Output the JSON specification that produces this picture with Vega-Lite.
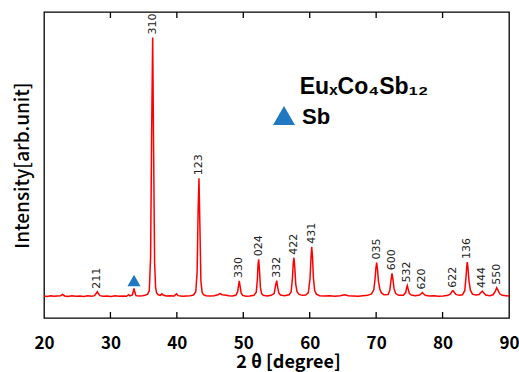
{
  "$schema": "https://vega.github.io/schema/vega-lite/v6.json",
  "width": 465,
  "height": 306,
  "autosize": {"type": "none"},
  "padding": {"left": 44, "top": 12, "right": 10, "bottom": 54},
  "config": {
    "view": {"stroke": "#000", "strokeWidth": 1.3},
    "axis": {"grid": false}
  },
  "datasets": {
    "pattern": [
      {"two_theta": 20.0, "intensity": 7.2}, {"two_theta": 20.5, "intensity": 7.0}, {"two_theta": 21.0, "intensity": 7.3},
      {"two_theta": 21.5, "intensity": 7.1}, {"two_theta": 22.0, "intensity": 7.2}, {"two_theta": 22.5, "intensity": 7.3},
      {"two_theta": 22.8, "intensity": 7.7}, {"two_theta": 23.1, "intensity": 7.2}, {"two_theta": 23.6, "intensity": 7.0},
      {"two_theta": 24.2, "intensity": 7.3}, {"two_theta": 24.8, "intensity": 7.1}, {"two_theta": 25.4, "intensity": 7.2},
      {"two_theta": 26.0, "intensity": 7.0}, {"two_theta": 26.6, "intensity": 7.3}, {"two_theta": 27.2, "intensity": 7.1},
      {"two_theta": 27.6, "intensity": 7.3}, {"two_theta": 27.85, "intensity": 8.0}, {"two_theta": 28.03, "intensity": 8.6},
      {"two_theta": 28.2, "intensity": 7.9}, {"two_theta": 28.45, "intensity": 7.3}, {"two_theta": 28.9, "intensity": 7.1},
      {"two_theta": 29.5, "intensity": 7.2}, {"two_theta": 30.1, "intensity": 7.0}, {"two_theta": 30.7, "intensity": 7.3},
      {"two_theta": 31.3, "intensity": 7.1}, {"two_theta": 31.9, "intensity": 7.2}, {"two_theta": 32.4, "intensity": 7.1},
      {"two_theta": 32.75, "intensity": 7.6}, {"two_theta": 32.95, "intensity": 7.2}, {"two_theta": 33.3, "intensity": 7.5},
      {"two_theta": 33.45, "intensity": 8.8}, {"two_theta": 33.55, "intensity": 9.7}, {"two_theta": 33.68, "intensity": 8.4},
      {"two_theta": 33.85, "intensity": 7.3}, {"two_theta": 34.3, "intensity": 7.2}, {"two_theta": 34.8, "intensity": 7.3},
      {"two_theta": 35.2, "intensity": 7.4}, {"two_theta": 35.6, "intensity": 7.8}, {"two_theta": 35.85, "intensity": 9.0},
      {"two_theta": 36.05, "intensity": 20}, {"two_theta": 36.2, "intensity": 60}, {"two_theta": 36.36, "intensity": 91.7},
      {"two_theta": 36.5, "intensity": 55}, {"two_theta": 36.65, "intensity": 18}, {"two_theta": 36.8, "intensity": 10},
      {"two_theta": 36.95, "intensity": 8.2}, {"two_theta": 37.2, "intensity": 7.6}, {"two_theta": 37.5, "intensity": 7.4},
      {"two_theta": 37.75, "intensity": 7.9}, {"two_theta": 37.95, "intensity": 7.5}, {"two_theta": 38.4, "intensity": 7.2},
      {"two_theta": 39.0, "intensity": 7.3}, {"two_theta": 39.6, "intensity": 7.2}, {"two_theta": 39.95, "intensity": 7.9},
      {"two_theta": 40.2, "intensity": 7.3}, {"two_theta": 40.8, "intensity": 7.1}, {"two_theta": 41.4, "intensity": 7.2},
      {"two_theta": 42.0, "intensity": 7.3}, {"two_theta": 42.5, "intensity": 7.5}, {"two_theta": 42.85, "intensity": 8.6},
      {"two_theta": 43.05, "intensity": 15}, {"two_theta": 43.2, "intensity": 35}, {"two_theta": 43.33, "intensity": 45.7},
      {"two_theta": 43.47, "intensity": 30}, {"two_theta": 43.62, "intensity": 12}, {"two_theta": 43.8, "intensity": 8.5},
      {"two_theta": 44.0, "intensity": 7.6}, {"two_theta": 44.4, "intensity": 7.3}, {"two_theta": 45.0, "intensity": 7.2},
      {"two_theta": 45.6, "intensity": 7.3}, {"two_theta": 46.2, "intensity": 7.6}, {"two_theta": 46.5, "intensity": 8.0},
      {"two_theta": 46.8, "intensity": 7.6}, {"two_theta": 47.2, "intensity": 7.5}, {"two_theta": 47.8, "intensity": 7.3},
      {"two_theta": 48.4, "intensity": 7.2}, {"two_theta": 48.9, "intensity": 7.5}, {"two_theta": 49.15, "intensity": 8.6},
      {"two_theta": 49.3, "intensity": 10.8}, {"two_theta": 49.4, "intensity": 12.1}, {"two_theta": 49.52, "intensity": 10.3},
      {"two_theta": 49.68, "intensity": 8.2}, {"two_theta": 49.9, "intensity": 7.4}, {"two_theta": 50.4, "intensity": 7.1},
      {"two_theta": 51.0, "intensity": 7.2}, {"two_theta": 51.6, "intensity": 7.4}, {"two_theta": 51.95, "intensity": 8.4},
      {"two_theta": 52.12, "intensity": 12.5}, {"two_theta": 52.22, "intensity": 17.5}, {"two_theta": 52.32, "intensity": 19.2},
      {"two_theta": 52.44, "intensity": 15.5}, {"two_theta": 52.58, "intensity": 10}, {"two_theta": 52.75, "intensity": 8.0},
      {"two_theta": 53.0, "intensity": 7.4}, {"two_theta": 53.6, "intensity": 7.2}, {"two_theta": 54.2, "intensity": 7.4},
      {"two_theta": 54.65, "intensity": 8.0}, {"two_theta": 54.85, "intensity": 10.5}, {"two_theta": 55.03, "intensity": 12.2},
      {"two_theta": 55.18, "intensity": 10.0}, {"two_theta": 55.35, "intensity": 8.2}, {"two_theta": 55.6, "intensity": 7.5},
      {"two_theta": 56.2, "intensity": 7.3}, {"two_theta": 56.9, "intensity": 7.6}, {"two_theta": 57.2, "intensity": 8.5},
      {"two_theta": 57.4, "intensity": 13}, {"two_theta": 57.52, "intensity": 18}, {"two_theta": 57.63, "intensity": 19.7},
      {"two_theta": 57.75, "intensity": 16.5}, {"two_theta": 57.9, "intensity": 11}, {"two_theta": 58.1, "intensity": 8.5},
      {"two_theta": 58.4, "intensity": 7.7}, {"two_theta": 58.9, "intensity": 7.4}, {"two_theta": 59.4, "intensity": 7.5},
      {"two_theta": 59.8, "intensity": 8.3}, {"two_theta": 60.05, "intensity": 13}, {"two_theta": 60.2, "intensity": 20},
      {"two_theta": 60.3, "intensity": 23.3}, {"two_theta": 60.42, "intensity": 20}, {"two_theta": 60.56, "intensity": 13},
      {"two_theta": 60.75, "intensity": 9.0}, {"two_theta": 61.0, "intensity": 7.8}, {"two_theta": 61.5, "intensity": 7.3},
      {"two_theta": 62.2, "intensity": 7.2}, {"two_theta": 63.0, "intensity": 7.3}, {"two_theta": 63.8, "intensity": 7.1},
      {"two_theta": 64.6, "intensity": 7.3}, {"two_theta": 65.3, "intensity": 7.6}, {"two_theta": 65.8, "intensity": 7.3},
      {"two_theta": 66.5, "intensity": 7.2}, {"two_theta": 67.3, "intensity": 7.1}, {"two_theta": 68.0, "intensity": 7.3},
      {"two_theta": 68.7, "intensity": 7.4}, {"two_theta": 69.3, "intensity": 7.9}, {"two_theta": 69.65, "intensity": 9.2},
      {"two_theta": 69.85, "intensity": 13}, {"two_theta": 69.97, "intensity": 16.5}, {"two_theta": 70.08, "intensity": 18.1},
      {"two_theta": 70.2, "intensity": 16.0}, {"two_theta": 70.35, "intensity": 12}, {"two_theta": 70.55, "intensity": 9.5},
      {"two_theta": 70.8, "intensity": 8.2}, {"two_theta": 71.2, "intensity": 7.6}, {"two_theta": 71.8, "intensity": 7.7},
      {"two_theta": 72.05, "intensity": 9.0}, {"two_theta": 72.25, "intensity": 12.5}, {"two_theta": 72.39, "intensity": 14.6},
      {"two_theta": 72.52, "intensity": 12.8}, {"two_theta": 72.7, "intensity": 9.5}, {"two_theta": 72.95, "intensity": 8.0},
      {"two_theta": 73.4, "intensity": 7.4}, {"two_theta": 74.1, "intensity": 7.4}, {"two_theta": 74.45, "intensity": 8.3},
      {"two_theta": 74.6, "intensity": 10.0}, {"two_theta": 74.69, "intensity": 10.6}, {"two_theta": 74.8, "intensity": 9.6},
      {"two_theta": 75.0, "intensity": 8.0}, {"two_theta": 75.3, "intensity": 7.5}, {"two_theta": 75.9, "intensity": 7.3},
      {"two_theta": 76.55, "intensity": 7.5}, {"two_theta": 76.8, "intensity": 8.0}, {"two_theta": 76.95, "intensity": 8.3},
      {"two_theta": 77.12, "intensity": 7.9}, {"two_theta": 77.4, "intensity": 7.4}, {"two_theta": 78.0, "intensity": 7.2},
      {"two_theta": 78.7, "intensity": 7.3}, {"two_theta": 79.4, "intensity": 7.1}, {"two_theta": 80.1, "intensity": 7.2},
      {"two_theta": 80.8, "intensity": 7.4}, {"two_theta": 81.2, "intensity": 7.9}, {"two_theta": 81.45, "intensity": 8.8},
      {"two_theta": 81.57, "intensity": 8.9}, {"two_theta": 81.75, "intensity": 8.4}, {"two_theta": 82.0, "intensity": 7.7},
      {"two_theta": 82.5, "intensity": 7.4}, {"two_theta": 83.0, "intensity": 7.6}, {"two_theta": 83.35, "intensity": 9.0},
      {"two_theta": 83.55, "intensity": 14}, {"two_theta": 83.65, "intensity": 17}, {"two_theta": 83.72, "intensity": 18.3},
      {"two_theta": 83.82, "intensity": 16.5}, {"two_theta": 83.98, "intensity": 12}, {"two_theta": 84.2, "intensity": 9.0},
      {"two_theta": 84.5, "intensity": 7.8}, {"two_theta": 85.0, "intensity": 7.5}, {"two_theta": 85.5, "intensity": 7.7},
      {"two_theta": 85.8, "intensity": 8.4}, {"two_theta": 85.98, "intensity": 8.8}, {"two_theta": 86.15, "intensity": 8.3},
      {"two_theta": 86.5, "intensity": 7.5}, {"two_theta": 87.1, "intensity": 7.3}, {"two_theta": 87.6, "intensity": 7.6},
      {"two_theta": 87.95, "intensity": 8.8}, {"two_theta": 88.15, "intensity": 9.9}, {"two_theta": 88.32, "intensity": 9.2},
      {"two_theta": 88.6, "intensity": 7.9}, {"two_theta": 89.0, "intensity": 7.4}, {"two_theta": 89.5, "intensity": 7.3},
      {"two_theta": 90.0, "intensity": 7.2}
    ],
    "peaks": [
      {"hkl": "211", "two_theta": 28.03, "intensity": 8.6},
      {"hkl": "310", "two_theta": 36.36, "intensity": 91.7},
      {"hkl": "123", "two_theta": 43.33, "intensity": 45.7},
      {"hkl": "330", "two_theta": 49.4, "intensity": 12.1},
      {"hkl": "024", "two_theta": 52.32, "intensity": 19.2},
      {"hkl": "332", "two_theta": 55.03, "intensity": 12.2},
      {"hkl": "422", "two_theta": 57.63, "intensity": 19.7},
      {"hkl": "431", "two_theta": 60.3, "intensity": 23.3},
      {"hkl": "035", "two_theta": 70.08, "intensity": 18.1},
      {"hkl": "600", "two_theta": 72.39, "intensity": 14.6},
      {"hkl": "532", "two_theta": 74.69, "intensity": 10.6},
      {"hkl": "620", "two_theta": 76.95, "intensity": 8.3},
      {"hkl": "622", "two_theta": 81.57, "intensity": 8.9},
      {"hkl": "136", "two_theta": 83.72, "intensity": 18.3},
      {"hkl": "444", "two_theta": 85.98, "intensity": 8.8},
      {"hkl": "550", "two_theta": 88.15, "intensity": 9.9}
    ],
    "sb_marker": [
      {"phase": "Sb", "two_theta": 33.55, "intensity": 12.25},
      {"phase": "Sb", "two_theta": 56.13, "intensity": 66.2}
    ],
    "key": [
      {"label": "EuₓCo₄Sb₁₂", "two_theta": 58.5, "intensity": 73.2},
      {"label": "Sb", "two_theta": 58.84, "intensity": 63.4}
    ],
    "ticks": [
      {"two_theta": 30}, {"two_theta": 40}, {"two_theta": 50},
      {"two_theta": 60}, {"two_theta": 70}, {"two_theta": 80}
    ]
  },
  "layer": [
    {
      "data": {"name": "pattern"},
      "mark": {"type": "line", "color": "#ff0000", "strokeWidth": 1.5},
      "encoding": {
        "x": {
          "field": "two_theta", "type": "quantitative",
          "scale": {"domain": [20, 90], "nice": false, "zero": false},
          "axis": {
            "orient": "bottom", "values": [20, 30, 40, 50, 60, 70, 80, 90],
            "domain": false, "ticks": false,
            "labelPadding": 17, "labelFont": "Noto Sans CJK JP", "labelFontSize": 17,
            "labelFontWeight": "bold", "labelColor": "#000", "labelFlush": false,
            "title": "2 θ [degree]", "titleFont": "Noto Sans CJK JP", "titleFontSize": 18,
            "titleFontWeight": "bold", "titleColor": "#000", "titleX": 244, "titleY": 49,
            "titleBaseline": "alphabetic"
          }
        },
        "y": {
          "field": "intensity", "type": "quantitative",
          "scale": {"domain": [0, 100], "nice": false, "zero": false},
          "axis": {
            "domain": false, "ticks": false, "labels": false,
            "title": "Intensity[arb.unit]", "titleFont": "Noto Sans CJK JP", "titleFontSize": 19,
            "titleFontWeight": 500, "titleColor": "#000", "titlePadding": 12
          }
        }
      }
    },
    {
      "data": {"name": "ticks"},
      "mark": {"type": "tick", "orient": "vertical", "size": 12, "thickness": 1.3, "color": "#000", "opacity": 1, "clip": true},
      "encoding": {
        "x": {"field": "two_theta", "type": "quantitative"},
        "y": {"datum": 0}
      }
    },
    {
      "data": {"name": "ticks"},
      "mark": {"type": "tick", "orient": "vertical", "size": 12, "thickness": 1.3, "color": "#000", "opacity": 1, "clip": true},
      "encoding": {
        "x": {"field": "two_theta", "type": "quantitative"},
        "y": {"datum": 100}
      }
    },
    {
      "data": {"name": "peaks"},
      "mark": {"type": "text", "angle": 270, "align": "left", "baseline": "middle", "dx": 3,
               "font": "DejaVu Sans", "fontSize": 11, "color": "#222"},
      "encoding": {
        "x": {"field": "two_theta", "type": "quantitative"},
        "y": {"field": "intensity", "type": "quantitative"},
        "text": {"field": "hkl"}
      }
    },
    {
      "data": {"name": "sb_marker"},
      "mark": {"type": "point", "shape": "triangle-up", "filled": true, "opacity": 1, "color": "#1f78c1"},
      "encoding": {
        "x": {"field": "two_theta", "type": "quantitative"},
        "y": {"field": "intensity", "type": "quantitative"},
        "size": {"field": "intensity", "type": "quantitative", "scale": {"domain": [12.25, 66.2], "range": [170, 480]}, "legend": null}
      }
    },
    {
      "data": {"name": "key"},
      "mark": {"type": "text", "align": "left", "baseline": "alphabetic", "font": "Liberation Sans", "fontWeight": "bold", "color": "#000"},
      "encoding": {
        "x": {"field": "two_theta", "type": "quantitative"},
        "y": {"field": "intensity", "type": "quantitative"},
        "text": {"field": "label"},
        "size": {"field": "label", "type": "nominal", "scale": {"domain": ["EuₓCo₄Sb₁₂", "Sb"], "range": [23, 22]}, "legend": null}
      }
    }
  ]
}
